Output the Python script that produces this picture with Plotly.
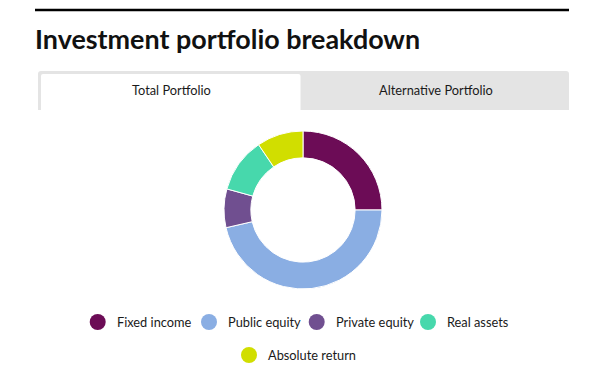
import plotly.graph_objects as go

# ---- data ----
categories = ["Fixed income", "Public equity", "Private equity", "Real assets", "Absolute return"]
shares = [25.0, 46.4, 7.9, 11.2, 9.5]
colors = ["#6c0c56", "#8aaee3", "#704f90", "#47d8ac", "#d1de00"]
title_text = "Investment portfolio breakdown"
tab_labels = ["Total Portfolio", "Alternative Portfolio"]

# ---- layout constants (pixels in the 616x373 window; page body has an 8px margin) ----
OFF = 8
W, H = 616 - OFF, 373 - OFF
FONT = "Lato"
cx, cy, R = 303 - OFF, 210 - OFF, 79
legend_rows = [[0, 1, 2, 3], [4]]
legend_row_y = [322 - OFF, 355 - OFF]
legend_x = [v - OFF for v in [97.7, 209, 316.7, 428, 249]]


def X(v):
    return v - OFF


def Y(v):
    return v - OFF


fig = go.Figure()

fig.add_trace(go.Pie(
    labels=categories, values=shares, marker=dict(colors=colors, line=dict(color="white", width=1)),
    sort=False, direction="clockwise", rotation=0, hole=0.66, textinfo="none",
    hoverinfo="label+percent", showlegend=False,
    domain=dict(x=[(cx - R) / W, (cx + R) / W], y=[1 - (cy + R) / H, 1 - (cy - R) / H]),
))

# custom legend (circle markers)
lx, ly = [], []
for row, yv in zip(legend_rows, legend_row_y):
    for i in row:
        lx.append(legend_x[i]); ly.append(yv)
order = [i for row in legend_rows for i in row]
fig.add_trace(go.Scatter(
    x=lx, y=ly, mode="markers", showlegend=False, hoverinfo="skip",
    marker=dict(size=16, color=[colors[i] for i in order], line=dict(width=0)),
))
annotations = []
for k, i in enumerate(order):
    annotations.append(dict(x=lx[k] + 17, y=ly[k], xref="x", yref="y", text=categories[i],
                            showarrow=False, xanchor="left", yanchor="middle",
                            font=dict(family=FONT, size=12.8, color="#1a1a1a")))

# title
annotations.append(dict(x=X(33), y=Y(38.5), xref="x", yref="y", text="<b>" + title_text + "</b>", showarrow=False,
                        xanchor="left", yanchor="middle", font=dict(family=FONT, size=26.9, color="#111111")))
# tab labels
annotations.append(dict(x=X(171), y=Y(90), xref="x", yref="y", text=tab_labels[0], showarrow=False,
                        xanchor="center", yanchor="middle", font=dict(family=FONT, size=12.8, color="#1a1a1a")))
annotations.append(dict(x=X(436), y=Y(90), xref="x", yref="y", text=tab_labels[1], showarrow=False,
                        xanchor="center", yanchor="middle", font=dict(family=FONT, size=12.8, color="#1a1a1a")))


def rect_path(x0, y0, x1, y1, r):
    x0, y0, x1, y1 = X(x0), Y(y0), X(x1), Y(y1)
    return (f"M{x0},{y1} L{x0},{y0 + r} Q{x0},{y0} {x0 + r},{y0} L{x1 - r},{y0} "
            f"Q{x1},{y0} {x1},{y0 + r} L{x1},{y1} Z")


shapes = [
    dict(type="line", xref="x", yref="y", x0=X(35), x1=X(569), y0=Y(10), y1=Y(10),
         line=dict(color="#000000", width=2.5)),
    dict(type="path", xref="x", yref="y", layer="below", path=rect_path(38, 71, 569, 110, 3),
         fillcolor="#e4e4e4", line=dict(width=0)),
    dict(type="path", xref="x", yref="y", layer="below", path=rect_path(41, 74, 300.5, 110, 2),
         fillcolor="#ffffff", line=dict(width=0)),
]

fig.update_layout(
    width=W, height=H, margin=dict(l=0, r=0, t=0, b=0),
    paper_bgcolor="white", plot_bgcolor="rgba(0,0,0,0)",
    xaxis=dict(range=[0, W], visible=False, fixedrange=True, domain=[0, 1]),
    yaxis=dict(range=[H, 0], visible=False, fixedrange=True, domain=[0, 1]),
    annotations=annotations, shapes=shapes, showlegend=False,
)

fig.write_html("out.html")
